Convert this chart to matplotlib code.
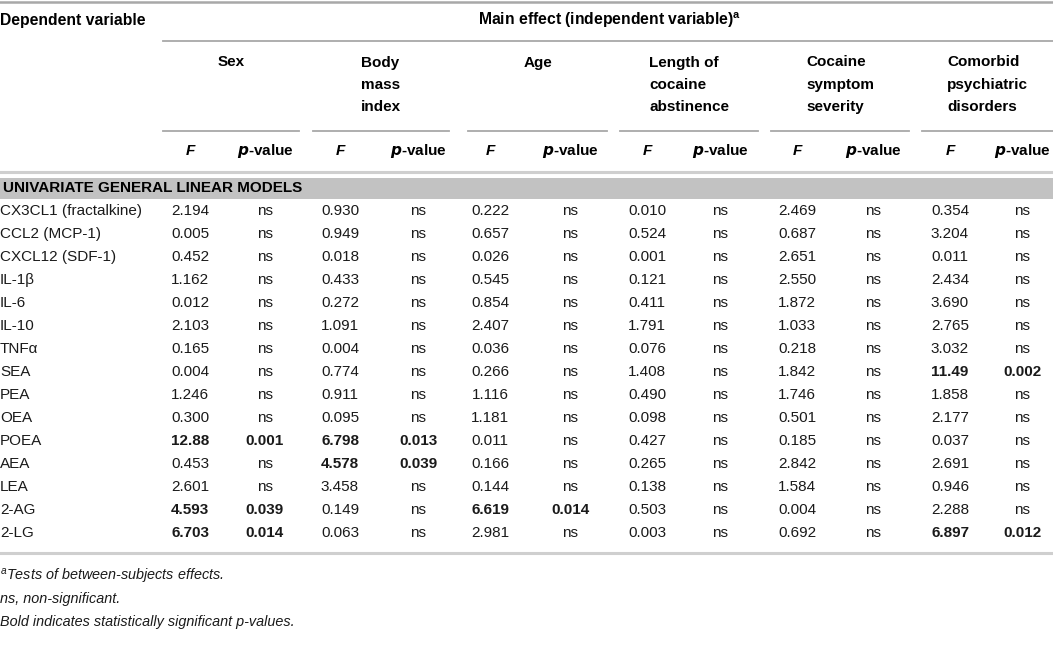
import matplotlib
matplotlib.use("Agg")
import matplotlib.pyplot as plt

plt.rcParams['font.family'] = ['Liberation Sans', 'DejaVu Sans']

# table data
variables = ["CX3CL1 (fractalkine)", "CCL2 (MCP-1)", "CXCL12 (SDF-1)", "IL-1\u03b2",
             "IL-6", "IL-10", "TNF\u03b1", "SEA", "PEA", "OEA", "POEA", "AEA",
             "LEA", "2-AG", "2-LG"]

effects = ["Sex", "Body\nmass\nindex", "Age", "Length of\ncocaine\nabstinence",
           "Cocaine\nsymptom\nseverity", "Comorbid\npsychiatric\ndisorders"]

sex_f = ["2.194", "0.005", "0.452", "1.162", "0.012", "2.103", "0.165", "0.004",
         "1.246", "0.300", "12.88", "0.453", "2.601", "4.593", "6.703"]
sex_p = ["ns", "ns", "ns", "ns", "ns", "ns", "ns", "ns",
         "ns", "ns", "0.001", "ns", "ns", "0.039", "0.014"]
bmi_f = ["0.930", "0.949", "0.018", "0.433", "0.272", "1.091", "0.004", "0.774",
         "0.911", "0.095", "6.798", "4.578", "3.458", "0.149", "0.063"]
bmi_p = ["ns", "ns", "ns", "ns", "ns", "ns", "ns", "ns",
         "ns", "ns", "0.013", "0.039", "ns", "ns", "ns"]
age_f = ["0.222", "0.657", "0.026", "0.545", "0.854", "2.407", "0.036", "0.266",
         "1.116", "1.181", "0.011", "0.166", "0.144", "6.619", "2.981"]
age_p = ["ns", "ns", "ns", "ns", "ns", "ns", "ns", "ns",
         "ns", "ns", "ns", "ns", "ns", "0.014", "ns"]
abst_f = ["0.010", "0.524", "0.001", "0.121", "0.411", "1.791", "0.076", "1.408",
          "0.490", "0.098", "0.427", "0.265", "0.138", "0.503", "0.003"]
abst_p = ["ns"] * 15
sev_f = ["2.469", "0.687", "2.651", "2.550", "1.872", "1.033", "0.218", "1.842",
         "1.746", "0.501", "0.185", "2.842", "1.584", "0.004", "0.692"]
sev_p = ["ns"] * 15
psy_f = ["0.354", "3.204", "0.011", "2.434", "3.690", "2.765", "3.032", "11.49",
         "1.858", "2.177", "0.037", "2.691", "0.946", "2.288", "6.897"]
psy_p = ["ns", "ns", "ns", "ns", "ns", "ns", "ns", "0.002",
         "ns", "ns", "ns", "ns", "ns", "ns", "0.012"]

columns = [(sex_f, sex_p), (bmi_f, bmi_p), (age_f, age_p),
           (abst_f, abst_p), (sev_f, sev_p), (psy_f, psy_p)]

footnotes = ["Tests of between-subjects effects.",
             "ns, non-significant.",
             "Bold indicates statistically significant p-values."]

# layout (pixel units)
W, H = 1053, 647
f_x = [190, 340, 490, 647, 797, 950]
p_x = [265, 418, 570, 720, 873, 1022]
group_x = [(163, 299), (313, 449), (468, 607), (620, 758), (771, 909), (922, 1053)]
row_y0, row_dy = 211, 23
fs = 11
line_col = '#a8a8a8'
txt_col = '#1a1a1a'

fig = plt.figure(figsize=(W / 100, H / 100), dpi=100)
ax = fig.add_axes([0, 0, 1, 1])
ax.set_xlim(0, W)
ax.set_ylim(H, 0)
ax.axis('off')

# horizontal rules
ax.plot([0, W], [1.5, 1.5], color=line_col, lw=1.8)
ax.plot([163, W], [41, 41], color=line_col, lw=1.3)
for x0, x1 in group_x:
    ax.plot([x0, x1], [131, 131], color=line_col, lw=1.3)
ax.plot([0, W], [172, 172], color='#cfcfcf', lw=2.2)
ax.add_patch(plt.Rectangle((0, 178), W, 21, color='#c2c2c2', lw=0))
last_y = row_y0 + row_dy * (len(variables) - 1)
ax.plot([0, W], [last_y + 20, last_y + 20], color='#cfcfcf', lw=2.2)

# header
ax.text(0, 20, "Dependent variable", fontsize=fs + 0.3, fontweight='bold', va='center')
ax.text(610, 20, "Main effect (independent variable)$^{\\mathregular{a}}$",
        fontsize=fs + 0.3, fontweight='bold', va='center', ha='center')
for lab, (x0, x1) in zip(effects, group_x):
    ax.text((x0 + x1) / 2, 55.5, lab, fontsize=fs, fontweight='bold', va='top',
            ha='center', multialignment='left', linespacing=1.76)
for fx, px in zip(f_x, p_x):
    ax.text(fx, 151, "F", fontsize=fs, fontweight='bold', style='italic',
            va='center', ha='center')
    ax.text(px, 151, "$\\mathbfit{p}$-value", fontsize=fs, fontweight='bold',
            va='center', ha='center')

ax.text(3, 188.5, "UNIVARIATE GENERAL LINEAR MODELS", fontsize=fs,
        fontweight='bold', va='center')

# body rows
for i, name in enumerate(variables):
    y = row_y0 + i * row_dy
    ax.text(0, y, name, fontsize=fs, va='center', color=txt_col)
    for (fv, pv), fx, px in zip(columns, f_x, p_x):
        sig = pv[i] != "ns"
        w = 'bold' if sig else 'normal'
        ax.text(fx, y, fv[i], fontsize=fs, fontweight=w, va='center', ha='center',
                color=txt_col)
        ax.text(px, y, pv[i], fontsize=fs, fontweight=w, va='center', ha='center',
                color=txt_col)

# footnotes
for j, note in enumerate(footnotes):
    y = 576 + j * 23
    prefix = "$^{\\mathregular{a}}$" if j == 0 else ""
    ax.text(0, y, prefix + note, fontsize=fs - 0.6, style='italic', va='center',
            color=txt_col)

fig.savefig("out.png", dpi=100)
